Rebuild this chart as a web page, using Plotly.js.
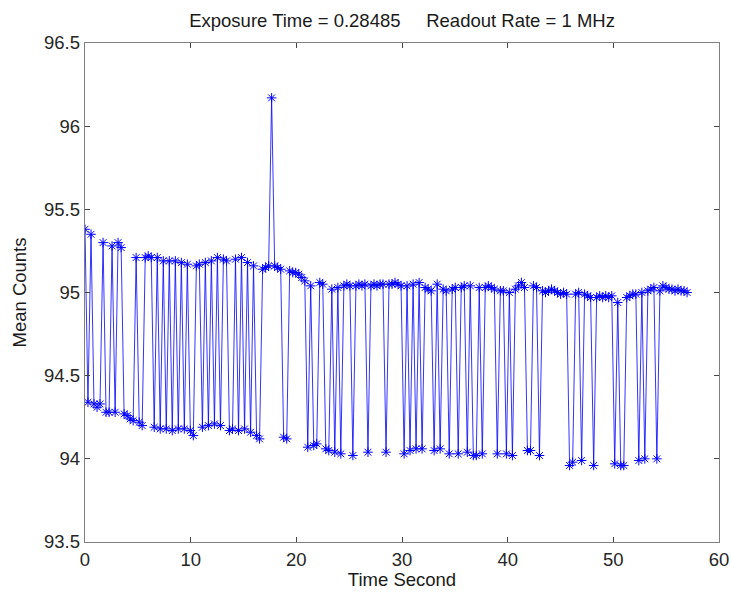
<!DOCTYPE html>
<html>
<head>
<meta charset="utf-8">
<script src="https://cdn.plot.ly/plotly-3.0.1.min.js"></script>
<style>html,body{margin:0;padding:0;background:#fff;}#chart{width:731px;height:592px;}</style>
</head>
<body>
<div id="chart"></div>
<script>
var times = [
0.00,0.28,0.57,0.85,1.14,1.42,1.71,1.99,2.28,2.56,
2.85,3.13,3.42,3.70,3.99,4.27,4.56,4.84,5.13,5.41,
5.70,5.98,6.27,6.55,6.84,7.12,7.41,7.69,7.98,8.26,
8.55,8.83,9.12,9.40,9.69,9.97,10.25,10.54,10.82,11.11,
11.39,11.68,11.96,12.25,12.53,12.82,13.10,13.39,13.67,13.96,
14.24,14.53,14.81,15.10,15.38,15.67,15.95,16.24,16.52,16.81,
17.09,17.38,17.66,17.95,18.23,18.52,18.80,19.09,19.37,19.66,
19.94,20.23,20.51,20.80,21.08,21.36,21.65,21.93,22.22,22.50,
22.79,23.07,23.36,23.64,23.93,24.21,24.50,24.78,25.07,25.35,
25.64,25.92,26.21,26.49,26.78,27.06,27.35,27.63,27.92,28.20,
28.49,28.77,29.06,29.34,29.63,29.91,30.20,30.48,30.76,31.05,
31.33,31.62,31.90,32.19,32.47,32.76,33.04,33.33,33.61,33.90,
34.18,34.47,34.75,35.04,35.32,35.61,35.89,36.18,36.46,36.75,
37.03,37.31,37.60,37.88,38.17,38.45,38.74,39.02,39.31,39.59,
39.88,40.16,40.45,40.73,41.02,41.30,41.59,41.87,42.16,42.44,
42.73,43.01,43.30,43.58,43.87,44.15,44.44,44.72,45.01,45.29,
45.58,45.86,46.15,46.43,46.72,47.00,47.28,47.57,47.85,48.14,
48.42,48.71,48.99,49.28,49.56,49.85,50.13,50.42,50.70,50.99,
51.27,51.56,51.84,52.13,52.41,52.70,52.98,53.27,53.55,53.84,
54.12,54.41,54.69,54.98,55.27,55.55,55.84,56.12,56.41,56.69,
56.98
];
var counts = [
95.38,94.34,95.35,94.33,94.31,94.33,95.30,94.28,94.28,95.28,
94.28,95.30,95.27,94.27,94.26,94.24,94.23,95.21,94.22,94.20,
95.21,95.22,95.21,94.19,95.21,94.18,95.19,94.18,95.19,94.17,
95.19,94.18,95.18,94.18,95.17,94.17,94.14,95.16,95.17,94.19,
95.18,94.20,95.19,94.21,95.21,94.20,95.20,95.19,94.17,94.18,
95.20,94.17,95.21,94.18,95.18,94.16,95.16,94.14,94.12,95.14,
95.15,95.16,96.17,95.16,95.15,95.14,94.13,94.12,95.13,95.12,
95.12,95.11,95.09,95.07,94.07,95.04,94.08,94.09,95.06,95.05,
94.06,94.05,95.02,94.04,95.03,94.03,95.04,95.05,95.04,94.02,
95.04,95.05,95.04,95.05,94.04,95.04,95.05,95.04,95.05,95.05,
94.04,95.05,95.05,95.06,95.05,95.04,94.03,95.04,94.05,95.05,
94.06,95.06,94.06,95.03,95.02,95.01,94.05,95.05,94.06,95.02,
95.01,94.03,95.02,95.03,94.03,95.03,95.04,94.04,95.04,94.02,
94.02,95.03,94.03,95.03,95.04,95.03,95.02,94.03,95.01,95.01,
94.03,95.00,94.02,95.02,95.04,95.06,95.03,94.05,94.05,95.04,
95.03,94.02,95.01,95.00,95.01,95.02,95.01,95.00,94.99,95.00,
94.99,93.96,93.98,94.99,95.00,93.99,94.99,94.98,94.97,93.96,
94.97,94.98,94.97,94.98,94.97,94.98,93.97,94.94,93.96,93.96,
94.97,94.98,94.99,94.99,93.99,95.00,94.00,95.01,95.02,95.03,
94.00,95.01,95.04,95.03,95.02,95.02,95.01,95.02,95.01,95.01,
95.00
];
var xTickVals = [0,10,20,30,40,50,60];
var yTickVals = [93.5,94,94.5,95,95.5,96,96.5];
var titleText = "Exposure Time = 0.28485\u00a0\u00a0\u00a0\u00a0\u00a0Readout Rate = 1 MHz";
var xLabel = "Time Second";
var yLabel = "Mean Counts";

var trace = {
  x: times, y: counts, type: 'scatter', mode: 'lines+markers',
  line: {color: '#0000ff', width: 0.8},
  marker: {symbol: 'asterisk-open', size: 8, color: '#0000ff', line: {color: '#0000ff', width: 1}},
  hoverinfo: 'skip'
};
var fontFam = '"Liberation Sans", Arial, sans-serif';
var axisCommon = {
  showgrid: false, zeroline: false, showline: true, linecolor: '#7f7f7f', linewidth: 1.3,
  mirror: 'ticks', ticks: 'inside', ticklen: 5, tickcolor: '#444', tickwidth: 1,
  tickfont: {family: fontFam, size: 18.5, color: '#262626'}
};
var layout = {
  width: 731, height: 592,
  margin: {l: 85, r: 12, t: 43, b: 50},
  paper_bgcolor: '#fff', plot_bgcolor: '#fff',
  showlegend: false,
  title: {text: titleText, font: {family: fontFam, size: 18.5, color: '#1a1a1a'}, x: 0.55, xanchor: 'center', y: 0.966, yanchor: 'middle'},
  xaxis: Object.assign({}, axisCommon, {range: [0, 60], tickvals: xTickVals, ticktext: xTickVals.map(String),
    title: {text: xLabel, font: {family: fontFam, size: 18.5, color: '#1a1a1a'}, standoff: 2}}),
  yaxis: Object.assign({}, axisCommon, {range: [93.5, 96.5], tickvals: yTickVals, ticktext: yTickVals.map(String),
    title: {text: yLabel, font: {family: fontFam, size: 18.5, color: '#1a1a1a'}, standoff: 12}})
};
Plotly.newPlot('chart', [trace], layout, {staticPlot: true, displayModeBar: false});
</script>
</body>
</html>
